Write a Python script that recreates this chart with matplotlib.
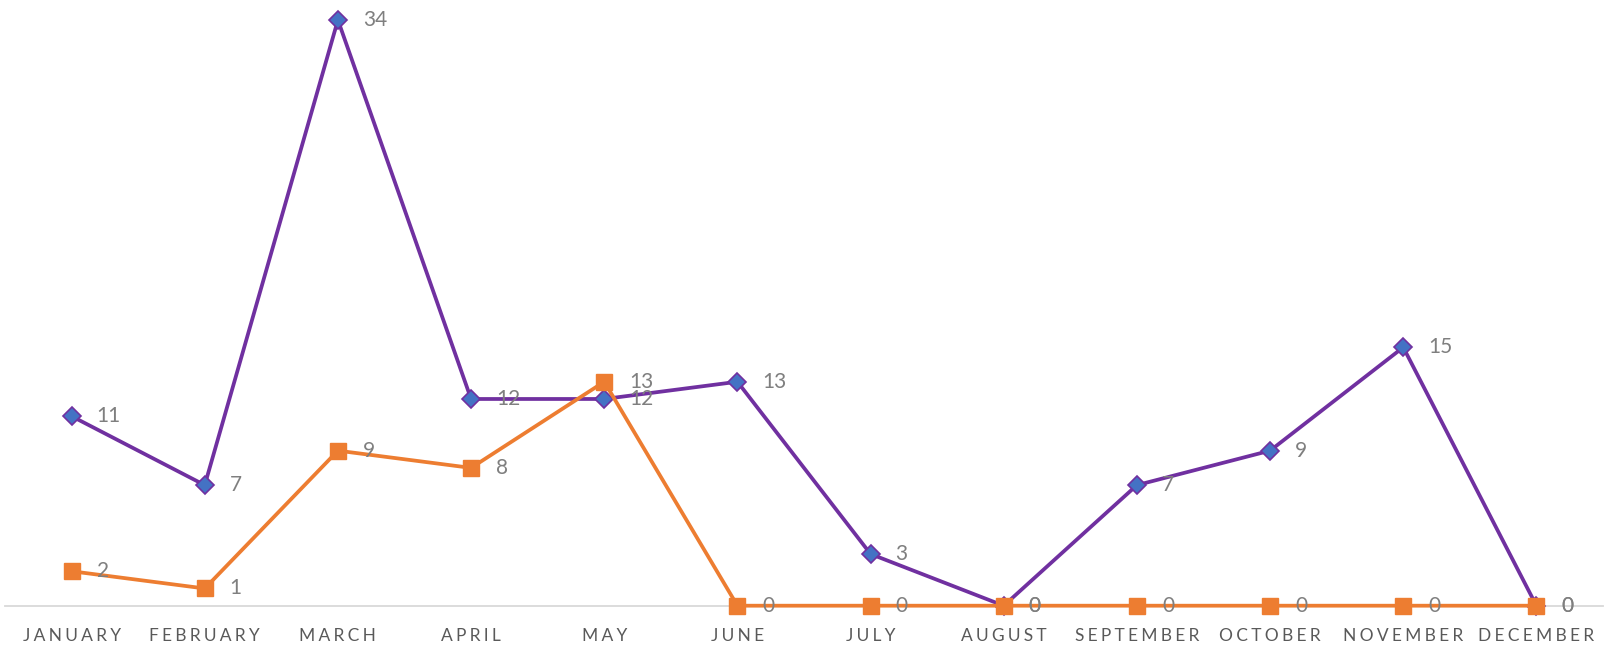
import matplotlib.pyplot as plt

months = ["JANUARY", "FEBRUARY", "MARCH", "APRIL", "MAY", "JUNE",
          "JULY", "AUGUST", "SEPTEMBER", "OCTOBER", "NOVEMBER", "DECEMBER"]
serie_roxa = [11, 7, 34, 12, 12, 13, 3, 0, 7, 9, 15, 0]
serie_laranja = [2, 1, 9, 8, 13, 0, 0, 0, 0, 0, 0, 0]

plt.rcParams['font.family'] = ['Lato', 'DejaVu Sans']

fig = plt.figure(figsize=(16.09, 6.45), dpi=100)
ax = fig.add_axes([5 / 1609, 39.3 / 645, 1598 / 1609, (605.7 - 20) / 645])

x = list(range(len(months)))
ax.plot(x, serie_roxa, color="#7030A0", linewidth=2.7, marker="D",
        markersize=9, markerfacecolor="#4472C4", markeredgecolor="#7030A0",
        markeredgewidth=1.2, clip_on=False, zorder=3)
ax.plot(x, serie_laranja, color="#ED7D31", linewidth=2.7, marker="s",
        markersize=12, markerfacecolor="#ED7D31", markeredgecolor="#ED7D31",
        clip_on=False, zorder=4)

for serie in (serie_roxa, serie_laranja):
    for i, v in enumerate(serie):
        ax.annotate(str(v), (i, v), xytext=(18, 0), textcoords="offset points",
                    ha="left", va="center", fontsize=15, color="#7F7F7F",
                    zorder=5)

ax.set_xlim(-0.5, 11.5)
ax.set_ylim(0, 34)
ax.set_yticks([])
ax.set_xticks(x)
ax.set_xticklabels(["\u2009\u200a".join(m) for m in months], fontsize=12.5,
                   color="#595959")
ax.tick_params(axis="x", length=0, pad=16)
for s in ["top", "right", "left"]:
    ax.spines[s].set_visible(False)
ax.spines["bottom"].set_color("#D9D9D9")
ax.spines["bottom"].set_linewidth(1.3)
ax.spines["bottom"].set_zorder(1)

plt.savefig("out.png", dpi=100)
